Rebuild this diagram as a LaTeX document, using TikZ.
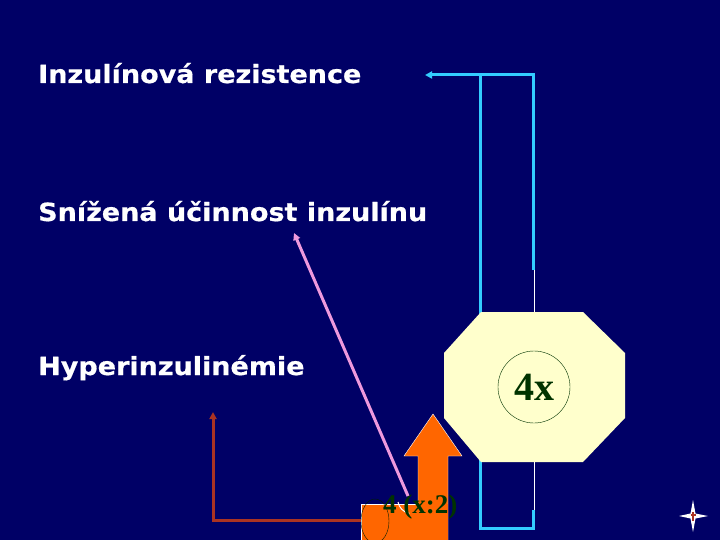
\documentclass[tikz,border=0pt]{standalone}
\usepackage{fontspec}
\setmainfont{DejaVu Sans}
\newfontfamily\titlefont{DejaVu Sans}[FakeStretch=1.08, FakeBold=0.6]
\newfontfamily\numfont{Liberation Serif}
\usetikzlibrary{arrows.meta,positioning,shapes.geometric}
\definecolor{bgnavy}{RGB}{0,0,102}
\definecolor{cyanline}{RGB}{51,204,255}
\definecolor{pinkline}{RGB}{238,153,221}
\definecolor{brownline}{RGB}{170,51,34}
\definecolor{blockorange}{RGB}{255,102,0}
\definecolor{octyellow}{RGB}{255,255,204}
\definecolor{darkgreen}{RGB}{0,51,0}

\begin{document}
\begin{tikzpicture}[x=1pt, y=-1pt,
  title/.style={font=\titlefont\fontsize{25}{29}\selectfont\bfseries, text=white,
    anchor=base west, inner sep=0pt},
  link/.style={line width=3pt, -{Triangle[length=7pt, width=7pt]}},
  thinwhite/.style={white, line width=1pt},
]
  % Background
  \fill[bgnavy] (0,0) rectangle (720,540);
  \useasboundingbox (0,0) rectangle (720,540);
  % Labels
  \node[title] (resist) at (38,83) {Inzulínová rezistence};
  \node[title] (ucin) at (38,221) {Snížená účinnost inzulínu};
  \node[title] (hyper) at (38,375) {Hyperinzulinémie};
  % Cyan loop
  \coordinate (cyanend) at (425,75);
  \draw[link, cyanline] (533,270) -- (533,75) -- (cyanend);
  \draw[cyanline, line width=3pt] (480,75) -- (480,315);
  \draw[cyanline, line width=3pt] (480,460) -- (480,528) -- (533,528) -- (533,510);
  \draw[thinwhite] (534,270) -- (534,315);
  \draw[thinwhite] (534,460) -- (534,510);
  % Octagon
  \fill[octyellow] (481,312) -- (583,312) -- (625,353) -- (625,418)
    -- (583,462) -- (481,462) -- (444,418) -- (444,353) -- cycle;
  \node[circle, draw=darkgreen, thin, minimum size=72pt, inner sep=0pt,
    text=darkgreen, font=\numfont\fontsize{40}{44}\selectfont\bfseries]
    (four) at (534,387) {4x};
  % Orange block arrow
  \filldraw[fill=blockorange, draw=white, thin] (418,540) -- (418,456)
    -- (404,456) -- (433,414) -- (462,456) -- (448,456) -- (448,540);
  \fill[blockorange] (361,504) rectangle (448,540);
  \draw[thinwhite] (361,540) -- (361,504) -- (418,504);
  \draw[darkgreen!60!black, thin] (375,521) ellipse [x radius=14, y radius=22];
  \draw[thinwhite] (398,502) arc[start angle=170, end angle=100, radius=14];
  \node[text=darkgreen, anchor=base west, inner sep=0pt,
    font=\numfont\fontsize{27}{30}\selectfont\bfseries] (half) at (383,513) {4 (x:2)};
  % Pink arrow
  \coordinate (pinkfoot) at (408,496);
  \coordinate (pinktip) at (294,233);
  \draw[link, pinkline] (pinkfoot) -- (pinktip);
  % Brown arrow
  \coordinate (brownfoot) at (361,520);
  \coordinate (browntip) at (213,412);
  \draw[link, brownline] (brownfoot) -| (browntip);
  % Star
  \fill[white] (693,500) -- (695.5,513.5) -- (708,516) -- (695.5,518.5)
    -- (693,532) -- (690.5,518.5) -- (679,516) -- (690.5,513.5) -- cycle;
  \draw[brownline, line width=1.2pt] (693,512) -- (693,521) (690.5,515) -- (695.5,515);
\end{tikzpicture}
\end{document}
